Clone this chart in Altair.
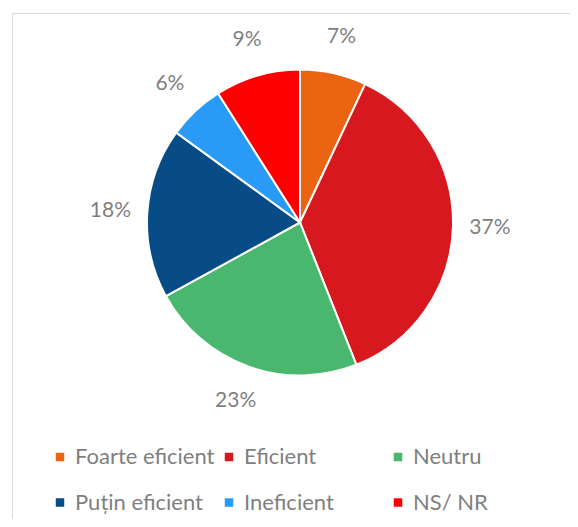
import altair as alt
import pandas as pd

categories = ["Foarte eficient", "Eficient", "Neutru", "Puțin eficient", "Ineficient", "NS/ NR"]
values = [7, 37, 23, 18, 6, 9]
labels = ["7%", "37%", "23%", "18%", "6%", "9%"]
colors = ["#EA6411", "#D7191F", "#49B76D", "#074C87", "#2A9AF7", "#FF0000"]

# legend is laid out column by column (2 rows x 3 columns)
legend_order = ["Foarte eficient", "Puțin eficient", "Eficient", "Ineficient", "Neutru", "NS/ NR"]
legend_colors = [colors[categories.index(c)] for c in legend_order]

df = pd.DataFrame({
    "cat": categories,
    "val": values,
    "lab": labels,
    "idx": list(range(len(categories))),
})

cx, cy = 288, 209.5
font = "Lato"
gray = "#7f7f7f"

base = alt.Chart(df).encode(
    theta=alt.Theta("val:Q", stack=True),
    order=alt.Order("idx:Q"),
    x=alt.value(cx),
    y=alt.value(cy),
)

arcs = base.mark_arc(outerRadius=153, stroke="white", strokeWidth=2).encode(
    color=alt.Color(
        "cat:N",
        scale=alt.Scale(domain=legend_order, range=legend_colors),
        legend=alt.Legend(
            title=None,
            orient="none",
            legendX=37,
            legendY=433,
            columns=3,
            gridAlign="all",
            symbolType="square",
            symbolSize=72,
            symbolStrokeWidth=0,
            labelFont=font,
            labelFontSize=22,
            labelColor=gray,
            labelOffset=4,
            columnPadding=3,
            rowPadding=23.5,
            labelLimit=300,
        ),
    )
)

text = base.mark_text(radius=190, font=font, fontSize=21, color=gray).encode(
    text="lab:N"
)

chart = (arcs + text).properties(
    width=580,
    height=520,
    padding={"left": 4, "top": 5, "right": -22, "bottom": -14},
    autosize=alt.AutoSizeParams(type="none"),
).configure_view(stroke="#d9d9d9", strokeWidth=1)

chart.save("out.html", embed_options={"renderer": "svg", "actions": False})
